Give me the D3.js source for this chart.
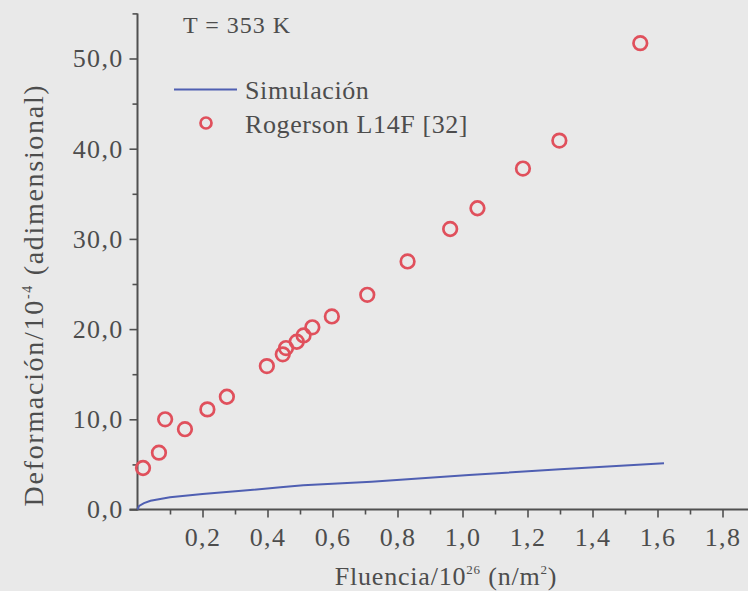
<!DOCTYPE html>
<html>
<head>
<meta charset="utf-8">
<script src="https://cdn.jsdelivr.net/npm/d3@7"></script>
<style>
  html, body { margin: 0; padding: 0; background: #e9e9e9; }
  svg { display: block; }
  text { font-family: "Liberation Serif", "Times New Roman", serif; fill: #4d4d4d; }
</style>
</head>
<body>
<svg id="chart" width="748" height="591"></svg>
<script>
// Simulated swelling strain vs fluence (T = 353 K)
const simFluence = [0, 0.005, 0.02, 0.04, 0.1, 0.2, 0.32, 0.44, 0.51, 0.72, 1.02, 1.30, 1.62];
const simStrain  = [0, 0.40, 0.70, 0.97, 1.35, 1.72, 2.08, 2.46, 2.70, 3.08, 3.82, 4.46, 5.12];

// Rogerson L14F experimental points
const expFluence = [0.017, 0.066, 0.085, 0.146, 0.215, 0.275, 0.398, 0.447, 0.457, 0.490, 0.511, 0.538, 0.598, 0.707, 0.831, 0.962, 1.046, 1.186, 1.298, 1.547];
const expStrain  = [4.6, 6.3, 10.0, 8.9, 11.1, 12.5, 15.9, 17.2, 17.9, 18.6, 19.3, 20.2, 21.4, 23.8, 27.5, 31.1, 33.4, 37.8, 40.9, 51.7];

const xMajor = [0.2, 0.4, 0.6, 0.8, 1.0, 1.2, 1.4, 1.6, 1.8];
const xMinor = [0.1, 0.3, 0.5, 0.7, 0.9, 1.1, 1.3, 1.5, 1.7, 1.9];
const yMajor = [0, 10, 20, 30, 40, 50];
const yMinor = [5, 15, 25, 35, 45, 55];

const seriesNames = ["Simulación", "Rogerson L14F [32]"];
const tempLabel = "T = 353 K";

const svg = d3.select("#chart");
const axisColor = "#505050";
const lineColor = "#4f5fb2";
const dotColor = "#e0505c";
const comma = d3.formatLocale({decimal: ",", thousands: ".", grouping: [3], currency: ["", ""]});
const fmt = comma.format(".1f");

const x = d3.scaleLinear().domain([0, 1.9]).range([137.5, 137.5 + 325 * 1.9]);
const y = d3.scaleLinear().domain([0, 55]).range([509.5, 13.4]);

// x axis
const gx = svg.append("g").attr("transform", `translate(0,${y(0)})`);
gx.call(d3.axisBottom(x).tickValues(xMajor).tickSize(8).tickPadding(10).tickFormat(fmt));
const gxm = svg.append("g").attr("transform", `translate(0,${y(0)})`);
gxm.call(d3.axisBottom(x).tickValues(xMinor).tickSize(5).tickFormat(""));
gxm.select(".domain").remove();

// y axis
const gy = svg.append("g").attr("transform", `translate(${x(0)},0)`);
gy.call(d3.axisLeft(y).tickValues(yMajor).tickSize(8).tickPadding(6).tickFormat(fmt));
const gym = svg.append("g").attr("transform", `translate(${x(0)},0)`);
gym.call(d3.axisLeft(y).tickValues(yMinor).tickSize(5).tickFormat(""));
gym.select(".domain").remove();

svg.selectAll(".domain").attr("stroke", axisColor).attr("stroke-width", 2);
gx.select(".domain").attr("d", `M${x(0) - 8},0H748`);
gy.select(".domain").attr("d", `M0,${y(55)}V${y(0) + 1}`);
svg.selectAll(".tick line").attr("stroke", axisColor).attr("stroke-width", 1.6);
svg.selectAll(".tick text")
  .style("font-size", "26px")
  .style("font-family", "'Liberation Serif', serif")
  .style("letter-spacing", "1.3px")
  .attr("fill", "#4d4d4d");

// axis titles
svg.append("text")
  .attr("x", 446).attr("y", 585)
  .attr("text-anchor", "middle")
  .style("font-size", "26px")
  .style("letter-spacing", "0.8px")
  .html('Fluencia/10<tspan dy="-11" font-size="13">26</tspan><tspan dy="11"> (n/m</tspan><tspan dy="-11" font-size="13">2</tspan><tspan dy="11">)</tspan>');

svg.append("text")
  .attr("transform", "translate(43,295) rotate(-90)")
  .attr("text-anchor", "middle")
  .style("font-size", "28px")
  .style("letter-spacing", "1.7px")
  .html('Deformación/10<tspan dy="-11" font-size="14">-4</tspan><tspan dy="11"> (adimensional)</tspan>');

// simulation curve
const line = d3.line().x((d, i) => x(simFluence[i])).y(d => y(d));
svg.append("path")
  .datum(simStrain)
  .attr("d", line)
  .attr("fill", "none")
  .attr("stroke", lineColor)
  .attr("stroke-width", 2);

// experimental points
svg.append("g").selectAll("circle")
  .data(expStrain)
  .join("circle")
  .attr("cx", (d, i) => x(expFluence[i]))
  .attr("cy", d => y(d))
  .attr("r", 6.8)
  .attr("fill", "none")
  .attr("stroke", dotColor)
  .attr("stroke-width", 2.7);

// legend
svg.append("text").attr("x", 183).attr("y", 33)
  .style("font-size", "24px").style("letter-spacing", "1px").text(tempLabel);
svg.append("line").attr("x1", 174).attr("x2", 237).attr("y1", 89.5).attr("y2", 89.5)
  .attr("stroke", lineColor).attr("stroke-width", 2);
svg.append("text").attr("x", 245).attr("y", 99)
  .style("font-size", "26px").style("letter-spacing", "0.6px").text(seriesNames[0]);
svg.append("circle").attr("cx", 206).attr("cy", 123).attr("r", 5.5)
  .attr("fill", "none").attr("stroke", dotColor).attr("stroke-width", 2.7);
svg.append("text").attr("x", 245).attr("y", 133)
  .style("font-size", "26px").style("letter-spacing", "0.6px").text(seriesNames[1]);
</script>
</body>
</html>
